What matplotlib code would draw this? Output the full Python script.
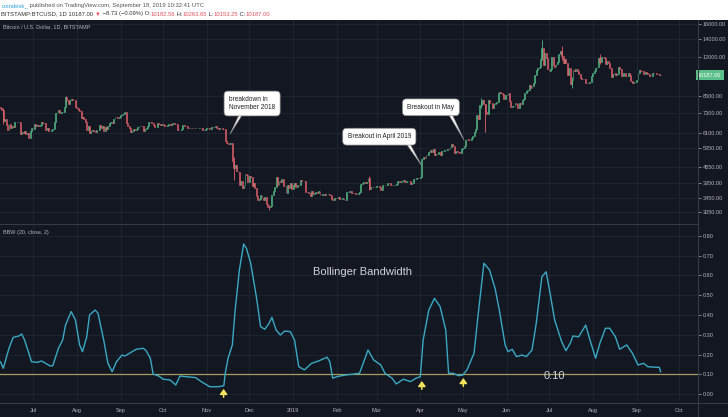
import numpy as np
import pandas as pd
import matplotlib
matplotlib.use("Agg")
import matplotlib.pyplot as plt
import matplotlib.dates as mdates
from matplotlib.lines import Line2D
from matplotlib.patches import Rectangle
from matplotlib.ticker import FixedLocator, FixedFormatter, NullLocator
from matplotlib.transforms import blended_transform_factory

plt.rcParams["font.family"] = ["Liberation Sans", "DejaVu Sans"]

# ---- daily closes, BTCUSD Bitstamp ----
start_date = "2018-06-08"
first_open = 7690
close_2018_06 = [7620, 7500, 6780, 6900, 6550, 6300, 6640, 6400, 6500, 6450, 6720, 6750,
                 6760, 6720, 6050, 6170, 6150, 6250, 6090, 6130, 5880, 6210, 6390]
close_2018_07 = [6350, 6610, 6510, 6590, 6530, 6600, 6760, 6710, 6660, 6300, 6390, 6250,
                 6220, 6270, 6350, 6730, 7320, 7380, 7470, 7330, 7400, 7400, 7720, 8400,
                 8170, 7940, 8180, 8230, 8210, 8170, 7730]
close_2018_08 = [7600, 7530, 7420, 7010, 7030, 6940, 6720, 6280, 6540, 6150, 6240, 6310,
                 6250, 6190, 6270, 6310, 6580, 6390, 6490, 6260, 6470, 6370, 6530, 6690,
                 6740, 6710, 6910, 7080, 7030, 6980, 7030]
close_2018_09 = [7190, 7270, 7260, 7370, 6700, 6510, 6410, 6200, 6250, 6320, 6290, 6330,
                 6480, 6490, 6520, 6500, 6250, 6340, 6390, 6490, 6760, 6720, 6710, 6590,
                 6430, 6460, 6680, 6630, 6600, 6620]
close_2018_10 = [6590, 6530, 6490, 6590, 6630, 6580, 6620, 6690, 6650, 6610, 6270, 6310,
                 6310, 6320, 6590, 6500, 6490, 6420, 6400, 6410, 6420, 6410, 6400, 6420,
                 6400, 6410, 6420, 6400, 6270, 6280, 6320]
close_2018_11 = [6380, 6400, 6370, 6480, 6430, 6460, 6540, 6420, 6360, 6390, 6400, 6370,
                 6340, 5730, 5630, 5580, 5550, 5610, 4800, 4480, 4600, 4370, 4340, 3890,
                 4010, 3780, 3840, 4280, 4230, 3990]
close_2018_12 = [4180, 4140, 3830, 3930, 3760, 3510, 3390, 3410, 3550, 3450, 3390, 3480,
                 3280, 3200, 3190, 3210, 3540, 3680, 3820, 4140, 3870, 4010, 3980, 4070,
                 3830, 3850, 3600, 3880, 3780, 3950, 3740]
close_2019_01 = [3860, 3940, 3820, 3880, 3860, 4060, 4010, 4000, 4010, 3630, 3630, 3600,
                 3510, 3660, 3580, 3620, 3650, 3610, 3690, 3540, 3560, 3590, 3560, 3590,
                 3580, 3580, 3540, 3430, 3400, 3460, 3440]
close_2019_02 = [3470, 3500, 3420, 3430, 3450, 3390, 3380, 3640, 3640, 3670, 3620, 3620,
                 3600, 3580, 3590, 3610, 3650, 3900, 3930, 3970, 3930, 3970, 4110, 3740,
                 3820, 3800, 3810, 3820]
close_2019_03 = [3830, 3830, 3800, 3720, 3870, 3880, 3890, 3870, 3950, 3930, 3870, 3890,
                 3880, 3880, 3920, 4020, 3990, 3990, 4030, 4060, 3990, 4000, 4010, 4000,
                 3910, 3940, 4090, 4080, 4130, 4130, 4120]
close_2019_04 = [4150, 4890, 4960, 4900, 5040, 5060, 5200, 5290, 5200, 5320, 5050, 5080,
                 5070, 5160, 5030, 5220, 5240, 5290, 5290, 5340, 5300, 5400, 5560, 5450,
                 5150, 5210, 5200, 5190, 5150, 5300]
close_2019_05 = [5350, 5480, 5770, 5830, 5780, 5740, 5850, 5990, 6160, 6360, 7160, 6950,
                 7810, 7990, 8210, 7880, 7360, 7270, 8190, 7990, 7950, 7640, 7880, 8010,
                 8060, 8740, 8770, 8720, 8660, 8270, 8550]
close_2019_06 = [8560, 8740, 8120, 7680, 7790, 7800, 8000, 7930, 7630, 8010, 7910, 8160,
                 8230, 8690, 8840, 8980, 9320, 9080, 9280, 9530, 10200, 10680, 10850, 11000,
                 11770, 12930, 11160, 12380, 11890, 10750]
close_2019_07 = [10580, 10800, 11970, 11150, 10980, 11240, 11460, 12300, 12560, 12100, 11350,
                 11800, 11370, 10190, 10870, 9450, 9690, 10650, 10540, 10760, 10590, 10330,
                 9900, 9830, 9880, 9850, 9480, 9540, 9510, 9590, 10090]
close_2019_08 = [10400, 10540, 10840, 10980, 11810, 11470, 11990, 11980, 11860, 11290, 11560,
                 11390, 10870, 10040, 10310, 10360, 10230, 10340, 10920, 10780, 10130, 10140,
                 10400, 10140, 10150, 10370, 10180, 9720, 9500, 9590, 9610]
close_2019_09 = [9770, 10380, 10630, 10590, 10580, 10320, 10490, 10410, 10340, 10110, 10160,
                 10420, 10360, 10360, 10310, 10260, 10180, 10187]

# a few long wicks that stand out on the chart
wick_dates = ["2018-06-10", "2018-07-24", "2018-11-20", "2018-12-15", "2019-02-24",
              "2019-05-14", "2019-05-17", "2019-06-26", "2019-07-10", "2019-07-17", "2019-08-06"]
wick_low = [6650, 8050, 4050, 3120, 3700, 7600, 6180, 11700, 11600, 9080, 11260]
wick_high = [7600, 8500, 4950, 3250, 4200, 8350, 7940, 13880, 13150, 9990, 12300]

last_price = 10187.00
price_ticks = [16000, 14000, 12000, 8500, 7300, 6100, 5350, 4550, 3950, 3450, 3050]

# ---- BBW (20, close, 2) ----
bbw_dates = [
    "2018-06-08", "2018-06-10", "2018-06-11", "2018-06-14", "2018-06-17", "2018-06-21",
    "2018-06-23", "2018-06-25", "2018-06-28", "2018-06-30", "2018-07-04", "2018-07-07",
    "2018-07-10", "2018-07-13", "2018-07-15", "2018-07-19", "2018-07-22", "2018-07-24",
    "2018-07-28", "2018-07-31", "2018-08-03", "2018-08-05", "2018-08-08", "2018-08-10",
    "2018-08-14", "2018-08-16", "2018-08-20", "2018-08-23", "2018-08-26", "2018-08-29",
    "2018-09-02", "2018-09-04", "2018-09-08", "2018-09-12", "2018-09-17", "2018-09-19",
    "2018-09-22", "2018-09-24", "2018-09-28", "2018-10-01", "2018-10-06", "2018-10-10",
    "2018-10-13", "2018-10-17", "2018-10-24", "2018-10-28", "2018-11-03", "2018-11-09",
    "2018-11-13", "2018-11-14", "2018-11-16", "2018-11-19", "2018-11-21", "2018-11-24",
    "2018-11-27", "2018-11-29", "2018-12-02", "2018-12-04", "2018-12-06", "2018-12-09",
    "2018-12-12", "2018-12-15", "2018-12-17", "2018-12-20", "2018-12-23", "2018-12-26",
    "2018-12-30", "2019-01-02", "2019-01-05", "2019-01-09", "2019-01-14", "2019-01-19",
    "2019-01-25", "2019-01-27", "2019-01-29", "2019-02-01", "2019-02-07", "2019-02-13",
    "2019-02-17", "2019-02-20", "2019-02-23", "2019-02-27", "2019-03-04", "2019-03-07",
    "2019-03-12", "2019-03-15", "2019-03-20", "2019-03-25", "2019-03-29", "2019-04-01",
    "2019-04-03", "2019-04-07", "2019-04-11", "2019-04-15", "2019-04-19", "2019-04-21",
    "2019-04-24", "2019-04-28", "2019-05-01", "2019-05-04", "2019-05-09", "2019-05-12",
    "2019-05-16", "2019-05-20", "2019-05-24", "2019-05-27", "2019-05-31", "2019-06-02",
    "2019-06-05", "2019-06-08", "2019-06-12", "2019-06-15", "2019-06-19", "2019-06-22",
    "2019-06-26", "2019-06-29", "2019-07-02", "2019-07-05", "2019-07-10", "2019-07-13",
    "2019-07-16", "2019-07-18", "2019-07-22", "2019-07-27", "2019-07-30", "2019-08-03",
    "2019-08-06", "2019-08-10", "2019-08-13", "2019-08-17", "2019-08-20", "2019-08-25",
    "2019-08-29", "2019-09-02", "2019-09-06", "2019-09-09", "2019-09-15", "2019-09-17",
    "2019-09-18"]
bbw_values = [
    0.164, 0.131, 0.156, 0.232, 0.287, 0.294, 0.304, 0.274, 0.207, 0.164, 0.161, 0.168,
    0.156, 0.143, 0.144, 0.232, 0.274, 0.349, 0.417, 0.375, 0.249, 0.215, 0.290, 0.400,
    0.425, 0.408, 0.274, 0.156, 0.114, 0.164, 0.198, 0.193, 0.210, 0.227, 0.232, 0.220,
    0.182, 0.102, 0.092, 0.076, 0.072, 0.047, 0.092, 0.089, 0.084, 0.064, 0.038, 0.038,
    0.043, 0.106, 0.182, 0.249, 0.425, 0.627, 0.758, 0.736, 0.661, 0.576, 0.492, 0.341,
    0.328, 0.358, 0.388, 0.324, 0.299, 0.319, 0.316, 0.274, 0.139, 0.123, 0.156, 0.168,
    0.187, 0.164, 0.081, 0.089, 0.097, 0.102, 0.106, 0.164, 0.223, 0.173, 0.148, 0.106,
    0.081, 0.052, 0.076, 0.064, 0.081, 0.089, 0.274, 0.425, 0.484, 0.442, 0.324, 0.106,
    0.106, 0.094, 0.097, 0.123, 0.207, 0.408, 0.661, 0.627, 0.530, 0.420, 0.249, 0.215,
    0.227, 0.190, 0.198, 0.190, 0.223, 0.358, 0.593, 0.618, 0.501, 0.375, 0.265, 0.220,
    0.257, 0.294, 0.290, 0.349, 0.274, 0.182, 0.257, 0.333, 0.333, 0.290, 0.227, 0.249,
    0.207, 0.148, 0.156, 0.139, 0.136, 0.136, 0.114]
squeeze_level = 0.10
bbw_ticks = [0.0, 0.1, 0.2, 0.3, 0.4, 0.5, 0.6, 0.7, 0.8]

arrow_dates = ["2018-11-12 20:00", "2019-04-02 02:00", "2019-05-01 10:00"]
arrow_tips = [0.027, 0.067, 0.082]

month_starts = pd.date_range("2018-07-01", "2019-10-01", freq="MS")
month_labels = ["Jul", "Aug", "Sep", "Oct", "Nov", "Dec", "2019", "Feb", "Mar", "Apr",
                "May", "Jun", "Jul", "Aug", "Sep", "Oct"]

# ---- style ----
BG = "#131722"
GRID = "#212633"
AXLINE = "#363a45"
TXT = "#b2b5be"
UP = "#53b987"
DOWN = "#e0606b"
BBW_C = "#3aa9c4"
LEVEL_C = "#a59c5e"
ARROW_C = "#f4e15c"

W, H = 728, 417
fig = plt.figure(figsize=(W / 100, H / 100), dpi=100, facecolor=BG)
ax = fig.add_axes([0, 1 - 223 / H, 698 / W, 203 / H], facecolor=BG)
ax2 = fig.add_axes([0, 1 - 402 / H, 698 / W, 178 / H], facecolor=BG, sharex=ax)

closes = np.array(close_2018_06 + close_2018_07 + close_2018_08 + close_2018_09 +
                  close_2018_10 + close_2018_11 + close_2018_12 + close_2019_01 +
                  close_2019_02 + close_2019_03 + close_2019_04 + close_2019_05 +
                  close_2019_06 + close_2019_07 + close_2019_08 + close_2019_09, float)
dates = pd.date_range(start_date, periods=len(closes), freq="D")
opens = np.concatenate([[first_open], closes[:-1]])
xd = mdates.date2num(dates)
up = closes >= opens
lo = np.minimum(opens, closes)
hi = np.maximum(opens, closes)

# wicks
wd = pd.to_datetime(wick_dates)
widx = dates.get_indexer(wd)
ax.vlines(mdates.date2num(wd), wick_low, wick_high,
          colors=[UP if up[i] else DOWN for i in widx], lw=0.6, zorder=2)
# bodies
for m, c in ((up, UP), (~up, DOWN)):
    ax.bar(xd[m], hi[m] - lo[m], bottom=lo[m], width=0.65, color=c, edgecolor=c,
           linewidth=0.4, zorder=3)

ax.set_yscale("log")
ax.set_ylim(2772, 16570)
x0 = mdates.date2num(pd.Timestamp("2018-07-01"))
ax.set_xlim(x0 - 33 / 1.4136, x0 + 665 / 1.4136)

ax.yaxis.tick_right()
ax.yaxis.set_major_locator(FixedLocator(price_ticks))
ax.yaxis.set_major_formatter(FixedFormatter([f"{v:.2f}" for v in price_ticks]))
ax.yaxis.set_minor_locator(NullLocator())
ax.tick_params(axis="y", colors=TXT, labelsize=4, length=2, width=0.5, pad=1.5)
ax.tick_params(axis="x", bottom=False, labelbottom=False)

for a in (ax, ax2):
    a.xaxis.set_major_locator(FixedLocator(mdates.date2num(month_starts)))
    a.grid(True, color=GRID, lw=0.6)
    a.set_axisbelow(True)
    for s in a.spines.values():
        s.set_visible(False)

ax.text(0.004, 0.966, "Bitcoin / U.S. Dollar, 1D, BITSTAMP", transform=ax.transAxes,
        color=TXT, fontsize=4, va="center")
ax.text(1.0, last_price, f"{last_price:.2f}", fontsize=4, color="white", va="center",
        ha="left", transform=blended_transform_factory(ax.transAxes, ax.transData),
        bbox=dict(boxstyle="square,pad=0.45", fc="#5cc08b", ec="none"), zorder=10)

# callouts
box = dict(boxstyle="round,pad=0.75,rounding_size=0.6", fc="white", ec="#8a8a8a", lw=0.5)
callouts = [
    ("breakdown in\nNovember 2018", "2018-11-17 10:00", 6070, "2018-12-03", 7940, (0.35, 0.3)),
    ("Breakout in April 2019", "2019-04-01 19:00", 4610, "2019-03-03", 5930, (0.9, 0.3)),
    ("Breakout in May", "2019-05-01 22:00", 5760, "2019-04-08 12:00", 7680, (0.85, 0.3)),
]
for txt, td, tp, bd, bp, rp in callouts:
    ax.annotate(txt, xy=(mdates.date2num(pd.Timestamp(td)), tp),
                xytext=(mdates.date2num(pd.Timestamp(bd)), bp),
                ha="center", va="center", multialignment="left", fontsize=4.7,
                color="#222222", bbox=box, zorder=8,
                arrowprops=dict(arrowstyle="wedge,tail_width=0.55,shrink_factor=0.5",
                                fc="white", ec="#8a8a8a", lw=0.5, relpos=rp,
                                patchA=None, shrinkB=0))

# ---- BBW panel ----
ax2.plot(pd.to_datetime(bbw_dates), bbw_values, color=BBW_C, lw=1.0, zorder=4)
ax2.axhline(squeeze_level, color=LEVEL_C, lw=0.9, zorder=3)
ax2.set_ylim(-0.039, 0.859)
ax2.yaxis.tick_right()
ax2.yaxis.set_major_locator(FixedLocator(bbw_ticks))
ax2.yaxis.set_major_formatter(FixedFormatter([f"{v:.2f}" for v in bbw_ticks]))
ax2.tick_params(axis="y", colors=TXT, labelsize=4, length=2, width=0.5, pad=1.5)
ax2.xaxis.set_major_formatter(FixedFormatter(month_labels))
ax2.tick_params(axis="x", colors=TXT, labelsize=4, length=0, pad=4)

for d, v in zip(arrow_dates, arrow_tips):
    ax2.annotate("", xy=(mdates.date2num(pd.Timestamp(d)), v), xytext=(0, -6),
                 textcoords="offset points",
                 arrowprops=dict(arrowstyle="-|>,head_width=0.22,head_length=0.3",
                                 color=ARROW_C, lw=1.1, shrinkA=0, shrinkB=0), zorder=6)

ax2.text(0.004, 0.955, "BBW (20, close, 2)", transform=ax2.transAxes, color=TXT,
         fontsize=4, va="center")
ax2.text(mdates.date2num(pd.Timestamp("2019-07-04 14:00")), 0.094, "0.10", color="#d1d4dc",
         fontsize=8, ha="center", va="center", zorder=5)
ax2.text(mdates.date2num(pd.Timestamp("2019-02-19")), 0.618, "Bollinger Bandwidth",
         color="#d1d4dc", fontsize=8, ha="center", va="center")

# frame lines: price scale edge, pane divider, time scale edge
fig.add_artist(Line2D([698 / W, 698 / W], [0, 1 - 20 / H], color=AXLINE, lw=0.8))
fig.add_artist(Line2D([0, 698 / W], [1 - 223.5 / H, 1 - 223.5 / H], color=AXLINE, lw=0.8))
fig.add_artist(Line2D([0, 1], [1 - 402.5 / H, 1 - 402.5 / H], color=AXLINE, lw=0.8))

# header strip
fig.add_artist(Rectangle((0, 1 - 20 / H), 1, 20 / H, transform=fig.transFigure,
                         fc="white", ec="none", zorder=0))


def text_run(y, parts, x=0.002, size=4.2):
    r = fig.canvas.get_renderer()
    for s, c in parts:
        t = fig.text(x, y, s, color=c, fontsize=size, va="center", ha="left")
        bb = t.get_window_extent(renderer=r)
        x = fig.transFigure.inverted().transform((bb.x1, bb.y0))[0]


text_run(1 - 5.5 / H, [("coindesk_", "#2a9fd6"),
                       (" published on TradingView.com, September 18, 2019 10:32:41 UTC", "#555555")])
RED = "#e0525c"
text_run(1 - 14 / H, [("BITSTAMP:BTCUSD, 1D 10187.00 ", "#333333"), ("\u25bc", RED),
                      (" \u22128.73 (\u22120.09%) O:", "#333333"), ("10182.56", RED),
                      (" H:", "#333333"), ("10263.65", RED), (" L:", "#333333"),
                      ("10153.25", RED), (" C:", "#333333"), ("10187.00", RED)])

fig.savefig("out.png", dpi=100, facecolor=BG)
